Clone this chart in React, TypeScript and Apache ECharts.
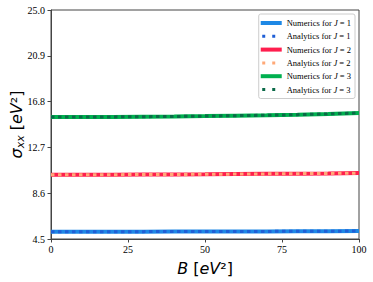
import React, { useEffect, useRef } from "react";
import * as echarts from "echarts";

const bValues = [0, 10, 20, 30, 40, 50, 60, 70, 80, 90, 100];
const numericsJ1 = [5.15, 5.15, 5.16, 5.16, 5.17, 5.17, 5.18, 5.18, 5.19, 5.2, 5.21];
const analyticsJ1 = [5.15, 5.15, 5.16, 5.16, 5.17, 5.17, 5.18, 5.18, 5.19, 5.2, 5.21];
const numericsJ2 = [10.25, 10.25, 10.26, 10.27, 10.28, 10.29, 10.31, 10.33, 10.35, 10.37, 10.4];
const analyticsJ2 = [10.25, 10.25, 10.26, 10.27, 10.28, 10.29, 10.31, 10.33, 10.35, 10.37, 10.4];
const numericsJ3 = [15.42, 15.42, 15.43, 15.45, 15.47, 15.5, 15.54, 15.58, 15.63, 15.7, 15.78];
const analyticsJ3 = [15.42, 15.42, 15.43, 15.45, 15.47, 15.5, 15.54, 15.58, 15.63, 15.7, 15.78];
const xTicks = [0, 25, 50, 75, 100];
const yTicks = [4.5, 8.6, 12.7, 16.8, 20.9, 25.0];

const dotIcon = "path://M0,0M21,4M1.5,0.5h3v3h-3zM11.5,0.5h3v3h-3z";

export default function App() {
  const ref = useRef<HTMLDivElement>(null);
  useEffect(() => {
    if (!ref.current) return;
    const chart = echarts.init(ref.current, null, { renderer: "svg" });
    const pair = (ys: number[]) => bValues.map((b, i) => [b, ys[i]]);
    const numeric = (name: string, ys: number[], color: string) => ({
      name,
      type: "line",
      data: pair(ys),
      showSymbol: false,
      symbol: "none",
      itemStyle: { color },
      lineStyle: { color, width: 4 },
      z: 2,
    });
    const analytic = (name: string, ys: number[], color: string) => ({
      name,
      type: "line",
      data: pair(ys),
      showSymbol: false,
      symbol: "none",
      itemStyle: { color },
      lineStyle: { color, width: 3, type: [3.5, 3.5] },
      z: 3,
    });
    const serif = "Liberation Serif";
    const sans = "DejaVu Sans";
    chart.setOption({
      animation: false,
      backgroundColor: "#fff",
      grid: {
        left: 51,
        right: 14,
        top: 10,
        bottom: 43,
        outerBoundsMode: "none",
        containLabel: false,
        show: true,
        borderColor: "#444",
        borderWidth: 1,
        backgroundColor: "transparent",
      },
      legend: {
        right: 18,
        top: 14,
        orient: "vertical",
        align: "left",
        itemWidth: 21,
        itemHeight: 4,
        itemGap: 3.3,
        padding: [4, 4, 4, 2],
        backgroundColor: "#fff",
        borderColor: "#ccc",
        borderWidth: 1,
        borderRadius: 2,
        textStyle: {
          fontFamily: serif,
          fontSize: 8.5,
          color: "#000",
          lineHeight: 10,
          rich: {
            i: { fontFamily: serif, fontSize: 8.5, fontStyle: "italic", color: "#000", lineHeight: 10 },
          },
        },
        formatter: (name: string) => name.replace("J", "{i|J}"),
        data: [
          { name: "Numerics for J = 1", icon: "rect", itemStyle: { borderWidth: 0 } },
          { name: "Analytics for J = 1", icon: dotIcon, itemStyle: { borderWidth: 0 } },
          { name: "Numerics for J = 2", icon: "rect", itemStyle: { borderWidth: 0 } },
          { name: "Analytics for J = 2", icon: dotIcon, itemStyle: { borderWidth: 0 } },
          { name: "Numerics for J = 3", icon: "rect", itemStyle: { borderWidth: 0 } },
          { name: "Analytics for J = 3", icon: dotIcon, itemStyle: { borderWidth: 0 } },
        ],
      },
      xAxis: {
        type: "value",
        min: xTicks[0],
        max: xTicks[xTicks.length - 1],
        interval: 25,
        name: "{i|B} [{i|eV}²]",
        nameLocation: "middle",
        nameGap: 21,
        nameMoveOverlap: false,
        nameTextStyle: {
          fontFamily: sans,
          fontSize: 16,
          color: "#000",
          rich: { i: { fontFamily: sans, fontSize: 16, fontStyle: "italic", color: "#000" } },
        },
        axisLine: { show: true, lineStyle: { color: "#444", width: 1 } },
        axisTick: { show: true, length: 3.5, lineStyle: { color: "#444" } },
        axisLabel: { fontFamily: serif, fontSize: 10, color: "#000", margin: 5 },
        splitLine: { show: false },
      },
      yAxis: {
        type: "value",
        min: yTicks[0],
        max: yTicks[yTicks.length - 1],
        interval: 4.1,
        name: "{i|σ}{sub|xx} [{i|eV}²]",
        nameLocation: "middle",
        nameGap: 25,
        nameMoveOverlap: false,
        nameRotate: 90,
        nameTextStyle: {
          fontFamily: sans,
          fontSize: 16,
          color: "#000",
          rich: {
            i: { fontFamily: sans, fontSize: 16, fontStyle: "italic", color: "#000", lineHeight: 20 },
            sub: { fontFamily: sans, fontSize: 11, fontStyle: "italic", color: "#000", verticalAlign: "bottom", lineHeight: 20 },
          },
        },
        axisLine: { show: true, lineStyle: { color: "#444", width: 1 } },
        axisTick: { show: true, length: 3.5, lineStyle: { color: "#444" } },
        axisLabel: {
          fontFamily: serif,
          fontSize: 10,
          color: "#000",
          margin: 6,
          formatter: (v: number) => v.toFixed(1),
        },
        splitLine: { show: false },
      },
      series: [
        numeric("Numerics for J = 1", numericsJ1, "#1e88e5"),
        analytic("Analytics for J = 1", analyticsJ1, "#1f5fd6"),
        numeric("Numerics for J = 2", numericsJ2, "#ff1e4e"),
        analytic("Analytics for J = 2", analyticsJ2, "#ffa978"),
        numeric("Numerics for J = 3", numericsJ3, "#00b04f"),
        analytic("Analytics for J = 3", analyticsJ3, "#0b6a48"),
      ],
    });
    return () => chart.dispose();
  }, []);
  return <div ref={ref} style={{ width: 373, height: 282, position: "absolute", left: 0, top: 0 }} />;
}
